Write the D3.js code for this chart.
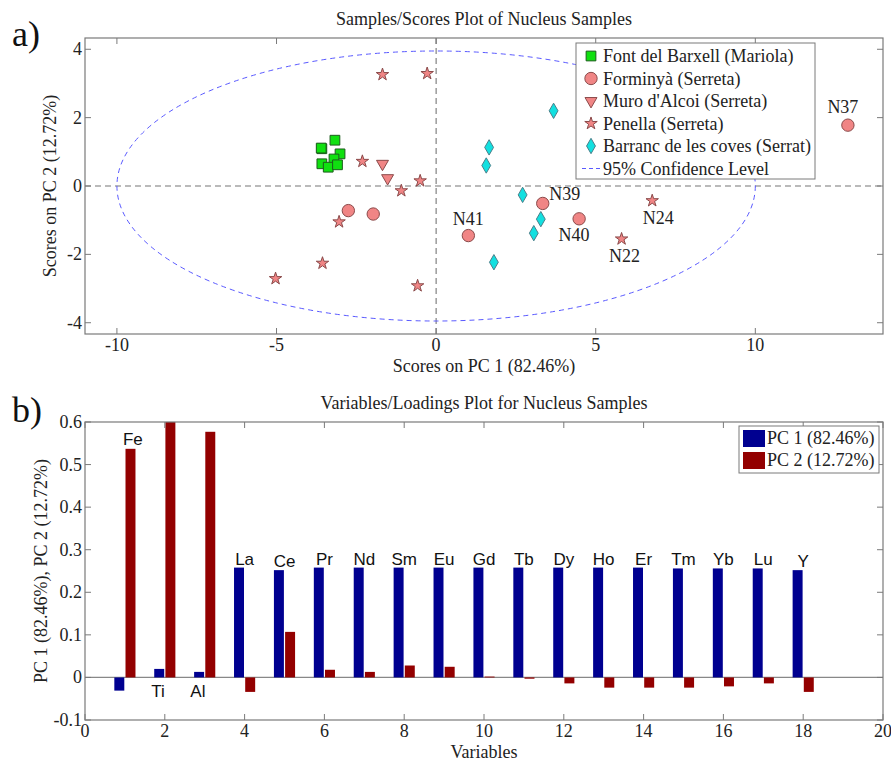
<!DOCTYPE html>
<html><head><meta charset="utf-8">
<script src="https://cdn.jsdelivr.net/npm/d3@7"></script>
<style>body{margin:0;background:#fff}svg{display:block}</style>
</head><body>
<svg id="c" width="891" height="762"></svg>
<script>
// ---------- DATA: scores plot ----------
const seriesNames = ["Font del Barxell (Mariola)","Forminyà (Serreta)","Muro d'Alcoi (Serreta)","Penella (Serreta)","Barranc de les coves (Serrat)"];
const barxellPC1 = [-3.58,-3.60,-3.17,-3.01,-3.20,-3.58,-3.38,-3.09];
const barxellPC2 = [1.09,1.11,1.34,0.94,0.79,0.65,0.55,0.62];
const forminyaPC1 = [-2.75,-1.97,1.01,3.34,4.48,12.9];
const forminyaPC2 = [-0.72,-0.82,-1.45,-0.51,-0.96,1.78];
const forminyaLabels = ["","","N41","N39","N40","N37"];
const muroPC1 = [-1.68,-1.52];
const muroPC2 = [0.65,0.23];
const penellaPC1 = [-1.68,-0.28,-2.31,-0.50,-1.09,-3.04,-3.56,-5.03,-0.58,6.77,5.81];
const penellaPC2 = [3.26,3.29,0.72,0.15,-0.14,-1.05,-2.26,-2.71,-2.92,-0.43,-1.55];
const penellaLabels = ["","","","","","","","","","N24","N22"];
const barrancPC1 = [3.68,1.66,1.57,2.71,3.28,3.06,1.81];
const barrancPC2 = [2.20,1.13,0.60,-0.26,-0.97,-1.38,-2.23];
const ellipseRadii = [10, 3.95];
const scoresXTicks = [-10,-5,0,5,10];
const scoresYTicks = [-4,-2,0,2,4];

// ---------- DATA: loadings plot ----------
const variables = ["Fe","Ti","Al","La","Ce","Pr","Nd","Sm","Eu","Gd","Tb","Dy","Ho","Er","Tm","Yb","Lu","Y"];
const pc1Loadings = [-0.031,0.020,0.013,0.258,0.252,0.258,0.258,0.258,0.258,0.258,0.258,0.258,0.258,0.258,0.256,0.256,0.256,0.252];
const pc2Loadings = [0.537,0.615,0.577,-0.034,0.107,0.018,0.013,0.028,0.025,0.002,-0.003,-0.014,-0.024,-0.024,-0.024,-0.021,-0.014,-0.034];
const loadingsXTicks = [0,2,4,6,8,10,12,14,16,18,20];
const loadingsYTicks = [-0.1,0,0.1,0.2,0.3,0.4,0.5,0.6];
const loadingsLegend = ["PC 1 (82.46%)","PC 2 (12.72%)"];

// ---------- drawing ----------
const svg = d3.select("#c");
const SERIF = "'Liberation Serif','Times New Roman',serif";
const SANS = "'Liberation Sans',Arial,sans-serif";
const AX = "#7a7a7a";
const FS = 18;

function frame(g, x, y, xt, yt, xfmt, yfmt){
  const [x0,x1] = x.range(), [y0,y1] = y.range();
  const L = 6;
  g.append("rect").attr("x",x0).attr("y",y1).attr("width",x1-x0).attr("height",y0-y1)
   .attr("fill","none").attr("stroke",AX).attr("stroke-width",1.2);
  xt.forEach(t=>{
    const px = x(t);
    g.append("line").attr("x1",px).attr("x2",px).attr("y1",y0).attr("y2",y0-L).attr("stroke",AX);
    g.append("line").attr("x1",px).attr("x2",px).attr("y1",y1).attr("y2",y1+L).attr("stroke",AX);
    g.append("text").attr("x",px).attr("y",y0+17).attr("text-anchor","middle")
     .attr("font-family",SERIF).attr("font-size",FS).attr("fill","#222").text(xfmt(t));
  });
  yt.forEach(t=>{
    const py = y(t);
    g.append("line").attr("x1",x0).attr("x2",x0+L).attr("y1",py).attr("y2",py).attr("stroke",AX);
    g.append("line").attr("x1",x1).attr("x2",x1-L).attr("y1",py).attr("y2",py).attr("stroke",AX);
    g.append("text").attr("x",x0-3).attr("y",py+6).attr("text-anchor","end")
     .attr("font-family",SERIF).attr("font-size",FS).attr("fill","#222").text(yfmt(t));
  });
}

// ===== Top: scores plot =====
const gTop = svg.append("g");
const xs = d3.scaleLinear().domain([-11,14]).range([85,883]);
const ys = d3.scaleLinear().domain([-4.33,4.33]).range([334,38]);

gTop.append("clipPath").attr("id","clipTop").append("rect")
  .attr("x",85).attr("y",38).attr("width",798).attr("height",296);
const tp = gTop.append("g").attr("clip-path","url(#clipTop)");

tp.append("line").attr("x1",xs(-11)).attr("x2",xs(14)).attr("y1",ys(0)).attr("y2",ys(0))
  .attr("stroke","#777").attr("stroke-dasharray","6,4").attr("stroke-width",1.1);
tp.append("line").attr("x1",xs(0)).attr("x2",xs(0)).attr("y1",ys(-4.33)).attr("y2",ys(4.33))
  .attr("stroke","#777").attr("stroke-dasharray","6,4").attr("stroke-width",1.1);

tp.append("ellipse").attr("cx",xs(0)).attr("cy",ys(0))
  .attr("rx",xs(ellipseRadii[0])-xs(0)).attr("ry",ys(0)-ys(ellipseRadii[1]))
  .attr("fill","none").attr("stroke","#5a5aff").attr("stroke-dasharray","5,4").attr("stroke-width",1);

const markerDefs = [
  {type:d3.symbolSquare, size:95, fill:"#10e010", stroke:"#1d5c1d", rot:0},
  {type:d3.symbolCircle, size:120, fill:"#f08585", stroke:"#8a4a4a", rot:0},
  {type:d3.symbolTriangle, size:62, fill:"#f08585", stroke:"#8a4a4a", rot:180},
  {type:d3.symbolStar, size:48, fill:"#f08585", stroke:"#8a4a4a", rot:0},
  {type:d3.symbolDiamond, size:68, fill:"#12e0e0", stroke:"#4a7f8a", rot:0}
];
const seriesPts = [
  [barxellPC1,barxellPC2,null],
  [forminyaPC1,forminyaPC2,forminyaLabels],
  [muroPC1,muroPC2,null],
  [penellaPC1,penellaPC2,penellaLabels],
  [barrancPC1,barrancPC2,null]
];
function drawMarker(g, m, cx, cy){
  g.append("path").attr("d",d3.symbol().type(m.type).size(m.size)())
   .attr("transform",`translate(${cx},${cy}) rotate(${m.rot})`)
   .attr("fill",m.fill).attr("stroke",m.stroke).attr("stroke-width",1);
}
const labelOffsets = {N37:[-5,-12],N39:[22,-3],N41:[0,-11],N40:[-5,22],N24:[6,23],N22:[3,23]};
seriesPts.forEach((s,si)=>{
  s[0].forEach((v,i)=>{
    drawMarker(tp, markerDefs[si], xs(v), ys(s[1][i]));
    if(s[2] && s[2][i]){
      const o = labelOffsets[s[2][i]];
      gTop.append("text").attr("x",xs(v)+o[0]).attr("y",ys(s[1][i])+o[1]).attr("text-anchor","middle")
        .attr("font-family",SERIF).attr("font-size",FS).attr("fill","#222").text(s[2][i]);
    }
  });
});

frame(gTop, xs, ys, scoresXTicks, scoresYTicks, d=>String(d), d=>String(d));

const lg = gTop.append("g");
lg.append("rect").attr("x",576).attr("y",43).attr("width",239).attr("height",136)
  .attr("fill","#fff").attr("stroke",AX).attr("stroke-width",1);
seriesNames.forEach((n,i)=>{
  const yy = 56 + i*22.5;
  drawMarker(lg, markerDefs[i], 591, yy);
  lg.append("text").attr("x",603).attr("y",yy+6).attr("font-family",SERIF).attr("font-size",FS)
    .attr("fill","#222").text(n);
});
lg.append("line").attr("x1",582).attr("x2",602).attr("y1",56+5*22.5).attr("y2",56+5*22.5)
  .attr("stroke","#5a5aff").attr("stroke-dasharray","4,3");
lg.append("text").attr("x",603).attr("y",56+5*22.5+6).attr("font-family",SERIF).attr("font-size",FS)
  .attr("fill","#222").text("95% Confidence Level");

gTop.append("text").attr("x",484).attr("y",25).attr("text-anchor","middle").attr("font-family",SERIF)
  .attr("font-size",FS).attr("fill","#222").text("Samples/Scores Plot of Nucleus Samples");
gTop.append("text").attr("x",484).attr("y",372).attr("text-anchor","middle").attr("font-family",SERIF)
  .attr("font-size",FS).attr("fill","#222").text("Scores on PC 1 (82.46%)");
gTop.append("text").attr("transform",`translate(56,186) rotate(-90)`).attr("text-anchor","middle")
  .attr("font-family",SERIF).attr("font-size",FS).attr("fill","#222").text("Scores on PC 2 (12.72%)");
gTop.append("text").attr("x",12).attr("y",46).attr("font-family",SERIF).attr("font-size",36)
  .attr("fill","#111").text("a)");

// ===== Bottom: loadings plot =====
const gBot = svg.append("g");
const xb = d3.scaleLinear().domain([0,20]).range([85,883]);
const yb = d3.scaleLinear().domain([-0.1,0.6]).range([720,422]);
gBot.append("clipPath").attr("id","clipBot").append("rect")
  .attr("x",85).attr("y",422).attr("width",798).attr("height",298);
const bp = gBot.append("g").attr("clip-path","url(#clipBot)");
const BW = 0.25, OFF = 0.14;
const cols = ["#000090","#930000"];
bp.append("line").attr("x1",xb(0)).attr("x2",xb(20)).attr("y1",yb(0)).attr("y2",yb(0))
  .attr("stroke","#888").attr("stroke-width",1.2);
[pc1Loadings,pc2Loadings].forEach((arr,k)=>{
  bp.selectAll(null).data(arr).enter().append("rect")
    .attr("x",(d,i)=>xb(i+1+(k?OFF:-OFF)-BW/2))
    .attr("width",xb(BW)-xb(0))
    .attr("y",d=>yb(Math.max(0,d)))
    .attr("height",d=>Math.abs(yb(d)-yb(0)))
    .attr("fill",cols[k]);
});
variables.forEach((v,i)=>{
  let lx, ly;
  if(i===0){ lx = xb(i+1+0.2); ly = yb(pc2Loadings[i])-4; }
  else if(pc1Loadings[i] < 0.1){ lx = xb(i+1-0.17); ly = yb(0)+20; }
  else { lx = xb(i+1); ly = yb(pc1Loadings[i])-3; }
  gBot.append("text").attr("x",lx).attr("y",ly).attr("text-anchor","middle")
    .attr("font-family",SANS).attr("font-size",17).attr("fill","#111").text(v);
});
frame(gBot, xb, yb, loadingsXTicks, loadingsYTicks, d=>String(d), d=>String(+d.toFixed(1)));

const lb = gBot.append("g");
lb.append("rect").attr("x",739).attr("y",426).attr("width",140).attr("height",47)
  .attr("fill","#fff").attr("stroke",AX);
loadingsLegend.forEach((n,i)=>{
  const yy = 430 + i*22;
  lb.append("rect").attr("x",743).attr("y",yy).attr("width",22).attr("height",17).attr("fill",cols[i]);
  lb.append("text").attr("x",767).attr("y",yy+14).attr("font-family",SERIF).attr("font-size",FS)
    .attr("fill","#222").text(n);
});
gBot.append("text").attr("x",484).attr("y",409).attr("text-anchor","middle").attr("font-family",SERIF)
  .attr("font-size",FS).attr("fill","#222").text("Variables/Loadings Plot for Nucleus Samples");
gBot.append("text").attr("x",484).attr("y",758).attr("text-anchor","middle").attr("font-family",SERIF)
  .attr("font-size",FS).attr("fill","#222").text("Variables");
gBot.append("text").attr("transform",`translate(47,571) rotate(-90)`).attr("text-anchor","middle")
  .attr("font-family",SERIF).attr("font-size",FS).attr("fill","#222").text("PC 1 (82.46%), PC 2 (12.72%)");
gBot.append("text").attr("x",12).attr("y",422).attr("font-family",SERIF).attr("font-size",36)
  .attr("fill","#111").text("b)");
</script>
</body></html>
